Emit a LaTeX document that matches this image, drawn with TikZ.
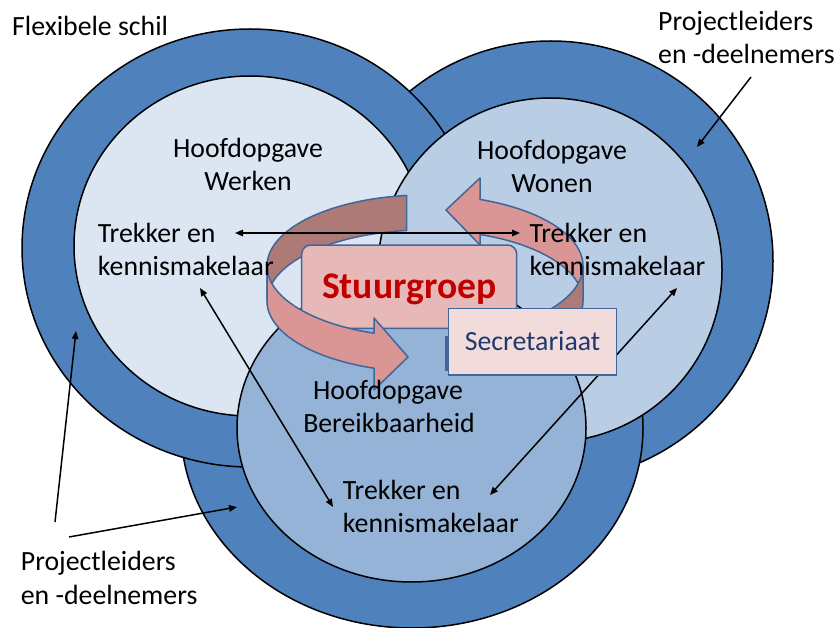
\documentclass[tikz,border=0pt]{standalone}
\usepackage{fontspec}
\setmainfont{Carlito}
\usetikzlibrary{arrows.meta}
\definecolor{ringblue}{HTML}{4F81BD}
\definecolor{werkfill}{HTML}{DCE6F2}
\definecolor{wonfill}{HTML}{B9CDE5}
\definecolor{berfill}{HTML}{95B3D7}
\definecolor{pinkfront}{HTML}{D99694}
\definecolor{pinkback}{HTML}{AE7A77}
\definecolor{shapeedge}{HTML}{41669A}
\definecolor{stuurfill}{HTML}{E6B9B8}
\definecolor{secfill}{HTML}{F2DCDB}
\definecolor{stuurred}{HTML}{C00000}
\definecolor{secblue}{HTML}{1F3A6E}
\begin{document}
\begin{tikzpicture}[x=1pt,y=-1pt,
  outerring/.style={fill=ringblue,draw=black,line width=1.5pt},
  innerdisk/.style={draw=black,line width=1.5pt},
  txt/.style={font=\fontsize{27.8}{33}\selectfont, inner sep=0pt, anchor=base west},
  ctxt/.style={font=\fontsize{27.8}{33}\selectfont, inner sep=0pt, anchor=base},
  conn/.style={line width=1.5pt, -{Triangle[length=8pt,width=6.5pt]}},
  dconn/.style={line width=1.5pt, {Triangle[length=8pt,width=6.5pt]}-{Triangle[length=8pt,width=6.5pt]}},
  ribbon/.style={draw=shapeedge,line width=1.5pt,line join=round},
]
\useasboundingbox (0,0) rectangle (840,628);
\fill[white] (0,0) rectangle (840,628);

% outer rings
\draw[outerring] (551,261) ellipse [x radius=222, y radius=220];
\draw[outerring] (412,428) ellipse [x radius=231, y radius=200];
\draw[outerring] (250,248) ellipse [x radius=228, y radius=219];
% inner disks
\draw[innerdisk, fill=werkfill] (250,246) ellipse [x radius=176, y radius=170];
\draw[innerdisk, fill=wonfill] (550,270) ellipse [x radius=172, y radius=172];
\draw[innerdisk, fill=berfill] (411.5,428) ellipse [x radius=174.5, y radius=154];

% circular arrow: back parts
\filldraw[ribbon, fill=pinkback]
  plot[domain=263.35:180,samples=50,variable=\t] ({425+158*cos(\t)},{266+71*sin(\t)})
  -- plot[domain=180:263.35,samples=50,variable=\t] ({425+158*cos(\t)},{301+71*sin(\t)})
  -- cycle;
\filldraw[ribbon, fill=pinkfront]
  plot[domain=290.37:360,samples=50,variable=\t] ({425+158*cos(\t)},{266+71*sin(\t)})
  -- plot[domain=360:290.37,samples=50,variable=\t] ({425+158*cos(\t)},{301+71*sin(\t)})
  -- (480,245) -- (446,210) -- (480,178) -- cycle;

% horizontal connector
\coordinate (hW) at (235,233);
\coordinate (hN) at (520,233);
\draw[dconn] (hW) -- (hN);

% Stuurgroep
\node[draw=shapeedge, line width=1.5pt, fill=stuurfill, rounded corners=9pt,
      minimum width=215pt, minimum height=83.3pt, inner sep=0pt,
      text height=24pt, text depth=1pt,
      font=\fontsize{37.6}{40}\selectfont\bfseries, text=stuurred]
      (stuur) at (409.2,286.7) {Stuurgroep};

% circular arrow: front parts
\filldraw[ribbon, fill=pinkfront]
  plot[domain=180:108.83,samples=50,variable=\t] ({425+158*cos(\t)},{266+71*sin(\t)})
  -- (374,318) -- (408,357) -- (374,390)
  -- plot[domain=108.83:180,samples=50,variable=\t] ({425+158*cos(\t)},{301+71*sin(\t)})
  -- cycle;
\filldraw[ribbon, fill=pinkback]
  plot[domain=0:53,samples=30,variable=\t] ({425+158*cos(\t)},{266+71*sin(\t)})
  -- plot[domain=53:0,samples=30,variable=\t] ({425+158*cos(\t)},{301+71*sin(\t)})
  -- cycle;

% connectors
\coordinate (kW) at (200,288);
\coordinate (tB1) at (333,507);
\coordinate (kN) at (677,288);
\coordinate (tB2) at (490,495);
\coordinate (plA) at (55,522);
\coordinate (ringW) at (76,331);
\coordinate (plB) at (69,537);
\coordinate (ringB) at (237,507);
\coordinate (plC) at (751,77);
\coordinate (ringN) at (697,147);
\draw[dconn] (kW) -- (tB1);
\draw[dconn] (kN) -- (tB2);
\draw[conn] (plA) -- (ringW);
\draw[conn] (plB) -- (ringB);
\draw[conn] (plC) -- (ringN);

% Secretariaat
\fill[shapeedge] (444.5,336) rectangle (449,370.5);
\node[draw=shapeedge, line width=1.5pt, fill=secfill,
      minimum width=168.4pt, minimum height=66.7pt, inner sep=0pt,
      text height=18pt, text depth=0pt,
      font=\fontsize{27.8}{33}\selectfont, text=secblue]
      (secr) at (532.5,341.7) {Secretariaat};

% texts
\node[txt] (fs) at (12,36) {Flexibele schil};
\node[txt] (plTa) at (658,30.7) {Projectleiders};
\node[txt] (plTb) at (658,63.3) {en -deelnemers};
\node[txt] (plBa) at (20.7,570.7) {Projectleiders};
\node[txt] (plBb) at (20.7,604) {en -deelnemers};
\node[ctxt] (hw1) at (248,157.7) {Hoofdopgave};
\node[ctxt] (hw2) at (248,191) {Werken};
\node[ctxt] (hn1) at (552,159.3) {Hoofdopgave};
\node[ctxt] (hn2) at (552,192.7) {Wonen};
\node[ctxt] (hb1) at (388,399) {Hoofdopgave};
\node[ctxt] (hb2) at (389,432.7) {Bereikbaarheid};
\node[txt] (tw1) at (97.7,242.7) {Trekker en};
\node[txt] (tw2) at (97.7,276) {kennismakelaar};
\node[txt] (tn1) at (529.3,242.7) {Trekker en};
\node[txt] (tn2) at (529.3,276) {kennismakelaar};
\node[txt] (tb1) at (342.7,499) {Trekker en};
\node[txt] (tb2) at (342.7,532) {kennismakelaar};
\end{tikzpicture}
\end{document}
